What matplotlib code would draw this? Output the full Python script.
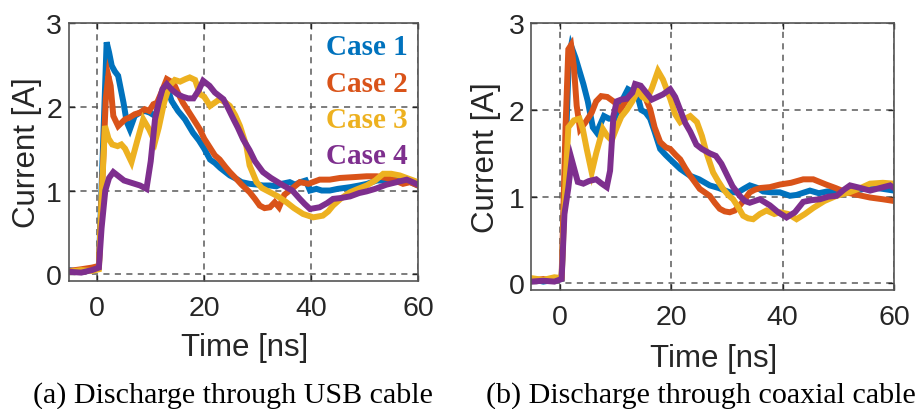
import matplotlib
matplotlib.use("Agg")
import matplotlib.pyplot as plt

# ---- data (time in ns, current in A) ----
case_names = ["Case 1", "Case 2", "Case 3", "Case 4"]
case_colors = ["#0072BD", "#D95319", "#EDB120", "#7E2F8E"]

# (a) discharge through USB cable
usb_t1 = [-5.3, -3, -1, 0.3, 1.0, 1.75, 2.2, 2.7, 3.3, 3.9, 4.9, 5.5, 6.1, 7.0, 8.0, 8.9, 9.8, 10.8,
          12.0, 13.0, 13.9, 15.1, 16.4, 17.9, 19.0, 20.0, 21.1, 22.0, 23.0, 24.0, 24.8, 26.0, 27.0,
          28.5, 30.0, 31.0, 32.3, 33.5, 34.5, 36.0, 37.0, 38.0, 39.0, 39.8, 41.0, 42.0, 43.5, 45.0,
          47.3, 49.0, 50.5, 52.3, 54.0, 56.0, 58.0, 60.0]
usb_i1 = [0.05, 0.03, 0.06, 0.10, 1.4, 2.77, 2.65, 2.49, 2.42, 2.37, 2.05, 1.82, 1.73, 1.89, 1.93,
          1.95, 1.93, 1.89, 2.11, 2.25, 2.07, 1.95, 1.85, 1.69, 1.6, 1.5, 1.37, 1.33, 1.27, 1.22,
          1.18, 1.14, 1.1, 1.08, 1.07, 1.06, 1.06, 1.05, 1.08, 1.1, 1.07, 1.1, 1.12, 1.0, 1.02, 1.0,
          1.0, 1.02, 1.04, 1.06, 1.08, 1.12, 1.12, 1.13, 1.12, 1.06]

usb_t2 = [-5.3, -3, -1, 0.3, 1.0, 1.6, 2.06, 2.5, 3.0, 3.9, 5.2, 6.0, 7.0, 8.0, 8.9, 9.7, 10.5, 11.2,
          12.0, 13.0, 13.8, 14.5, 15.2, 16.0, 17.0, 18.0, 19.2, 20.0, 21.1, 22.0, 22.9, 24.0, 24.8,
          26.0, 27.0, 28.5, 29.5, 30.4, 31.3, 32.3, 33.2, 34.0, 35.0, 36.0, 37.9, 39.5, 41.6, 43.5,
          45.4, 48.0, 50.4, 52.3, 54.1, 55.7, 57.2, 58.5, 60.0]
usb_i2 = [0.04, 0.06, 0.08, 0.10, 1.2, 2.1, 2.37, 2.25, 1.89, 1.77, 1.85, 1.87, 1.91, 1.93, 1.97,
          1.95, 2.03, 2.05, 2.17, 2.33, 2.3, 2.25, 2.15, 2.05, 1.95, 1.85, 1.73, 1.62, 1.51, 1.42,
          1.37, 1.28, 1.22, 1.14, 1.07, 0.98, 0.9, 0.82, 0.79, 0.8, 0.86, 0.8, 0.95, 1.0, 1.1, 1.08,
          1.13, 1.13, 1.15, 1.16, 1.17, 1.17, 1.15, 1.12, 1.08, 1.1, 1.06]

usb_t3 = [-5.3, -3, -1, 0.3, 0.8, 1.44, 2.1, 2.8, 3.8, 4.5, 5.2, 6.4, 7.5, 8.6, 9.7, 10.8, 11.5, 12.5,
          13.5, 14.5, 15.5, 16.5, 17.3, 18.3, 19.2, 20.0, 21.1, 22.0, 22.9, 24.0, 24.8, 25.8, 26.7,
          27.9, 28.5, 29.8, 30.8, 32.3, 33.8, 35.4, 36.8, 38.5, 40.4, 42.2, 43.2, 44.1, 45.5, 47.3,
          48.8, 50.4, 52.0, 53.5, 55.0, 56.6, 58.3, 60.0]
usb_i3 = [0.03, 0.05, 0.04, 0.06, 0.9, 1.77, 1.62, 1.55, 1.53, 1.55, 1.5, 1.34, 1.6, 1.85, 1.73,
          1.58, 1.75, 2.05, 2.25, 2.32, 2.3, 2.33, 2.35, 2.32, 2.15, 2.12, 2.01, 2.05, 2.09, 2.05,
          2.01, 1.9, 1.77, 1.53, 1.3, 1.1, 1.03, 0.98, 0.93, 0.86, 0.79, 0.72, 0.68, 0.7, 0.75, 0.82,
          0.9, 0.98, 1.02, 1.06, 1.12, 1.2, 1.2, 1.18, 1.14, 1.1]

usb_t4 = [-5.3, -3, -1, 0.3, 0.8, 1.5, 2.2, 3.0, 4.0, 5.0, 6.0, 7.0, 8.0, 9.2, 10.0, 10.8, 11.5,
          12.2, 13.0, 14.0, 15.0, 16.0, 17.0, 18.0, 19.0, 19.8, 21.0, 22.0, 23.6, 24.5, 25.5, 26.3,
          27.3, 28.5, 29.5, 31.0, 32.5, 34.8, 36.5, 37.9, 38.8, 39.8, 41.6, 43.0, 44.1, 45.5, 47.3,
          49.0, 50.4, 52.0, 54.1, 56.0, 57.9, 59.0, 60.0]
usb_i4 = [0.03, 0.02, 0.05, 0.08, 0.55, 1.0, 1.15, 1.22, 1.17, 1.12, 1.1, 1.08, 1.06, 1.02, 1.35,
          1.85, 2.05, 2.21, 2.27, 2.2, 2.15, 2.12, 2.1, 2.1, 2.2, 2.31, 2.25, 2.17, 2.09, 1.98, 1.85,
          1.75, 1.61, 1.48, 1.35, 1.22, 1.15, 1.06, 1.0, 0.9, 0.84, 0.78, 0.8, 0.85, 0.9, 0.91, 0.93,
          0.97, 0.99, 1.02, 1.07, 1.1, 1.13, 1.1, 1.07]

# (b) discharge through coaxial cable
coax_t1 = [-5.15, -3, -1, 0.3, 1.0, 1.6, 2.0, 2.8, 3.5, 4.2, 5.0, 5.9, 6.6, 7.9, 8.8, 9.8, 11.0,
           12.2, 13.3, 14.0, 14.6, 15.4, 16.2, 17.0, 18.0, 19.0, 19.8, 21.6, 23.4, 25.0, 26.9, 28.5,
           30.5, 32.0, 33.0, 34.1, 35.5, 36.5, 38.0, 39.5, 41.3, 42.5, 44.9, 46.5, 48.0, 50.0, 52.0,
           54.0, 55.7, 58.0, 60.0]
coax_i1 = [0.05, 0.02, 0.04, 0.05, 1.5, 2.6, 2.74, 2.6, 2.45, 2.3, 2.1, 1.8, 1.74, 1.93, 1.9, 1.9,
           2.09, 2.24, 2.2, 2.15, 2.0, 1.97, 1.9, 1.75, 1.55, 1.48, 1.43, 1.32, 1.24, 1.2, 1.13, 1.1,
           1.05, 1.05, 1.09, 1.13, 1.1, 1.06, 1.05, 1.05, 1.01, 1.02, 1.07, 1.04, 1.06, 1.06, 1.07,
           1.08, 1.11, 1.09, 1.07]

coax_t2 = [-5.15, -3, -1, 0.3, 1.0, 1.5, 2.0, 2.5, 3.0, 3.6, 4.5, 5.7, 6.5, 7.4, 8.5, 9.8, 10.8,
           11.8, 13.0, 14.0, 15.0, 15.6, 16.2, 17.0, 18.0, 19.0, 19.8, 20.8, 21.6, 22.5, 23.4, 24.2,
           25.1, 26.0, 26.9, 27.8, 28.7, 29.6, 30.5, 31.4, 32.3, 33.2, 34.1, 35.0, 36.0, 37.7, 39.5,
           41.5, 43.7, 45.5, 47.8, 49.5, 51.4, 53.5, 55.7, 58.0, 60.0]
coax_i2 = [0.03, 0.05, 0.03, 0.08, 1.8, 2.7, 2.75, 2.5, 2.05, 1.78, 1.85, 1.97, 2.1, 2.16, 2.15,
           2.09, 2.0, 2.1, 2.18, 2.24, 2.22, 2.1, 2.01, 1.8, 1.63, 1.57, 1.55, 1.48, 1.43, 1.33, 1.24,
           1.17, 1.09, 1.05, 1.01, 0.93, 0.86, 0.83, 0.82, 0.84, 0.9, 0.97, 1.05, 1.08, 1.1, 1.11,
           1.14, 1.16, 1.2, 1.2, 1.14, 1.1, 1.05, 1.02, 0.99, 0.97, 0.95]

coax_t3 = [-5.15, -3, -1, 0.3, 0.8, 1.5, 2.5, 3.5, 4.1, 4.8, 5.7, 6.5, 7.7, 8.5, 9.3, 10.2, 11.0,
           12.0, 13.0, 14.0, 14.8, 15.6, 16.5, 17.6, 18.5, 19.8, 20.7, 21.6, 22.5, 23.4, 24.6, 25.5,
           26.3, 27.5, 28.4, 29.3, 30.2, 31.1, 32.0, 32.9, 33.8, 34.7, 35.9, 37.1, 38.5, 39.5, 41.0,
           42.5, 44.0, 45.5, 47.5, 49.7, 52.0, 54.0, 55.7, 58.0, 60.0]
coax_i3 = [0.06, 0.04, 0.07, 0.06, 0.9, 1.8, 1.88, 1.9, 1.78, 1.55, 1.28, 1.5, 1.78, 1.7, 1.65, 1.8,
           1.92, 2.0, 2.1, 2.22, 2.15, 2.12, 2.25, 2.45, 2.35, 2.13, 1.95, 1.86, 1.9, 1.93, 1.86,
           1.7, 1.51, 1.28, 1.18, 1.09, 1.02, 0.97, 0.88, 0.78, 0.75, 0.74, 0.8, 0.84, 0.8, 0.82,
           0.8, 0.74, 0.8, 0.87, 0.95, 1.01, 1.05, 1.1, 1.15, 1.16, 1.15]

coax_t4 = [-5.15, -3, -1, 0.3, 0.8, 1.5, 2.1, 3.2, 4.2, 5.2, 6.5, 7.5, 8.4, 9.0, 9.6, 10.2, 11.0,
           12.0, 13.0, 13.5, 14.5, 15.5, 16.5, 17.5, 18.5, 19.8, 20.7, 21.6, 22.5, 23.4, 24.5, 25.5,
           26.9, 28.0, 29.0, 30.0, 31.0, 32.3, 33.2, 34.1, 35.9, 37.7, 39.2, 40.7, 42.2, 43.7, 45.2,
           46.7, 48.2, 49.7, 51.0, 52.1, 54.0, 55.7, 57.5, 59.3, 60.0]
coax_i4 = [0.02, 0.03, 0.02, 0.05, 0.8, 1.1, 1.43, 1.17, 1.15, 1.18, 1.2, 1.15, 1.11, 1.3, 1.93,
           2.1, 2.12, 2.13, 2.2, 2.3, 2.28, 2.2, 2.12, 2.15, 2.18, 2.24, 2.15, 2.0, 1.85, 1.75, 1.6,
           1.55, 1.5, 1.47, 1.38, 1.25, 1.12, 1.01, 0.95, 0.93, 0.97, 0.9, 0.82, 0.76, 0.82, 0.94,
           0.96, 0.97, 1.0, 1.01, 1.08, 1.13, 1.1, 1.07, 1.1, 1.13, 1.1]

x_ticks = [0, 20, 40, 60]
y_ticks = [0, 1, 2, 3]
captions = ["(a) Discharge through USB cable", "(b) Discharge through coaxial cable"]

panels = [
    (list(zip([usb_t1, usb_t2, usb_t3, usb_t4], [usb_i1, usb_i2, usb_i3, usb_i4])), -5.3, -0.08),
    (list(zip([coax_t1, coax_t2, coax_t3, coax_t4], [coax_i1, coax_i2, coax_i3, coax_i4])), -5.15, -0.077),
]

plt.rcParams["font.family"] = "Liberation Sans"
fig = plt.figure(figsize=(9.17, 4.10), dpi=100)
axes_rects = [[0.0752, 0.3122, 0.3806, 0.6293], [0.5794, 0.2902, 0.3955, 0.6505]]
ylabel_x = [-0.077, -0.083]
caption_x = [0.254, 0.764]
text_color = "#262626"

for k, (series, x_left, y_bottom) in enumerate(panels):
    ax = fig.add_axes(axes_rects[k])
    lines = []
    for (t, cur), name, col in zip(series, case_names, case_colors):
        ln, = ax.plot(t, cur, color=col, lw=4.3, label=name, solid_joinstyle="miter")
        lines.append(ln)
    ax.set_xlim(x_left, 60)
    ax.set_ylim(y_bottom, 3)
    ax.set_xticks(x_ticks)
    ax.set_yticks(y_ticks)
    ax.tick_params(direction="in", length=4, width=1, top=True, right=True,
                   labelsize=20.5, colors=text_color, pad=5)
    ax.tick_params(axis="x", pad=10)
    ax.grid(True, ls=(0, (4, 3.5)), color="#5a5a5a", lw=1.1)
    ax.set_axisbelow(True)
    for sp in ax.spines.values():
        sp.set_color("#555555")
        sp.set_linewidth(1.2)
    ax.set_xlabel("Time [ns]", fontsize=22.5, color=text_color)
    ax.set_ylabel("Current [A]", fontsize=22.5, color=text_color)
    ax.xaxis.set_label_coords(0.504, -0.197)
    ax.yaxis.set_label_coords(ylabel_x[k], 0.5)
    if k == 0:
        leg = ax.legend(handles=lines, loc="upper right", bbox_to_anchor=(1.0, 1.0),
                        frameon=False, handlelength=0, handletextpad=0, labelspacing=0.32,
                        borderaxespad=0.1, borderpad=0.25, labelcolor="linecolor",
                        prop={"family": "Liberation Serif", "weight": "bold", "size": 21})
        for h in leg.legend_handles:
            h.set_visible(False)
    fig.text(caption_x[k], 0.036, captions[k], ha="center", va="center",
             family="Liberation Serif", fontsize=21.6, color="black")

fig.savefig("out.png", dpi=100)
